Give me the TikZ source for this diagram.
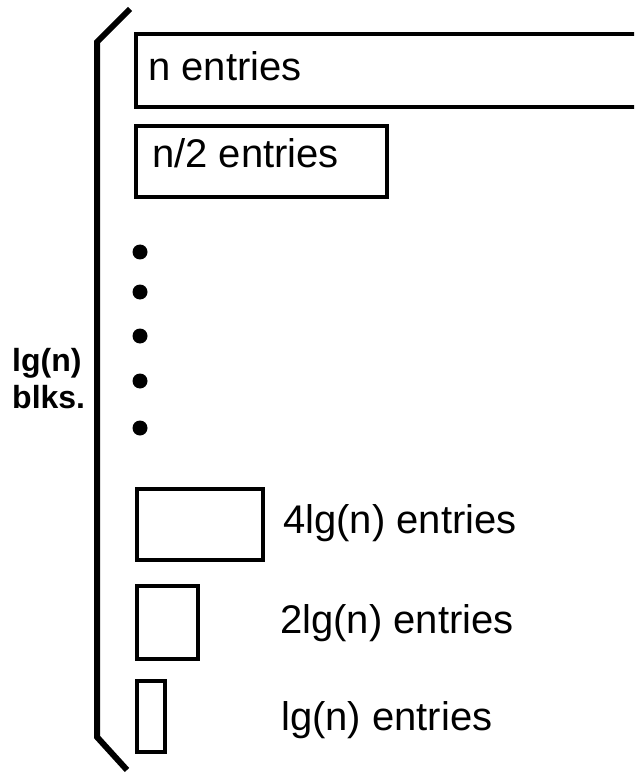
\documentclass[tikz,border=0pt]{standalone}
\usepackage{fontspec}
\setmainfont{Liberation Sans}
\usetikzlibrary{positioning}

\begin{document}
\begin{tikzpicture}[x=1pt,y=-1pt,
    blk/.style={draw, line width=4pt, inner sep=0pt, anchor=north west},
    lbl/.style={font=\fontsize{40}{46}\selectfont, inner sep=0pt, anchor=base west},
    dotmark/.style={circle, fill, inner sep=0pt, minimum size=15pt}]
    \useasboundingbox (0,0) rectangle (634,775);
    \clip (0,0) rectangle (634,775);
    % Bracket
    \coordinate (btop) at (130,9);
    \coordinate (bbot) at (127,770);
    \draw[line width=6pt] (btop) -- (97,42) -- (97,737) -- (bbot);
    \node[font=\bfseries\fontsize{32}{37}\selectfont, inner sep=0pt, anchor=base west] (lgn) at (12,371) {lg(n)};
    \node[font=\bfseries\fontsize{32}{37}\selectfont, inner sep=0pt, anchor=base west] (blks) at (12,408) {blks.};
    % Big blocks
    \node[blk, minimum width=540, minimum height=73] (full) at (134,32) {};
    \node[lbl] (fulltxt) at (148,81) {n entries};
    \node[blk, minimum width=251, minimum height=71] (half) at (134,124) {};
    \node[lbl] (halftxt) at (152,168) {n/2 entries};
    % Dots
    \foreach \yy [count=\i] in {252,292,336,381,428}
        \node[dotmark] (dot\i) at (140,\yy) {};
    % Small blocks
    \node[blk, minimum width=126, minimum height=71] (four) at (135,487) {};
    \node[lbl] (fourtxt) at (283,533) {4lg(n) entries};
    \node[blk, minimum width=61, minimum height=73] (two) at (135,584) {};
    \node[lbl] (twotxt) at (280,633) {2lg(n) entries};
    \node[blk, minimum width=28, minimum height=71] (one) at (135,679) {};
    \node[lbl] (onetxt) at (281,730) {lg(n) entries};
\end{tikzpicture}
\end{document}
